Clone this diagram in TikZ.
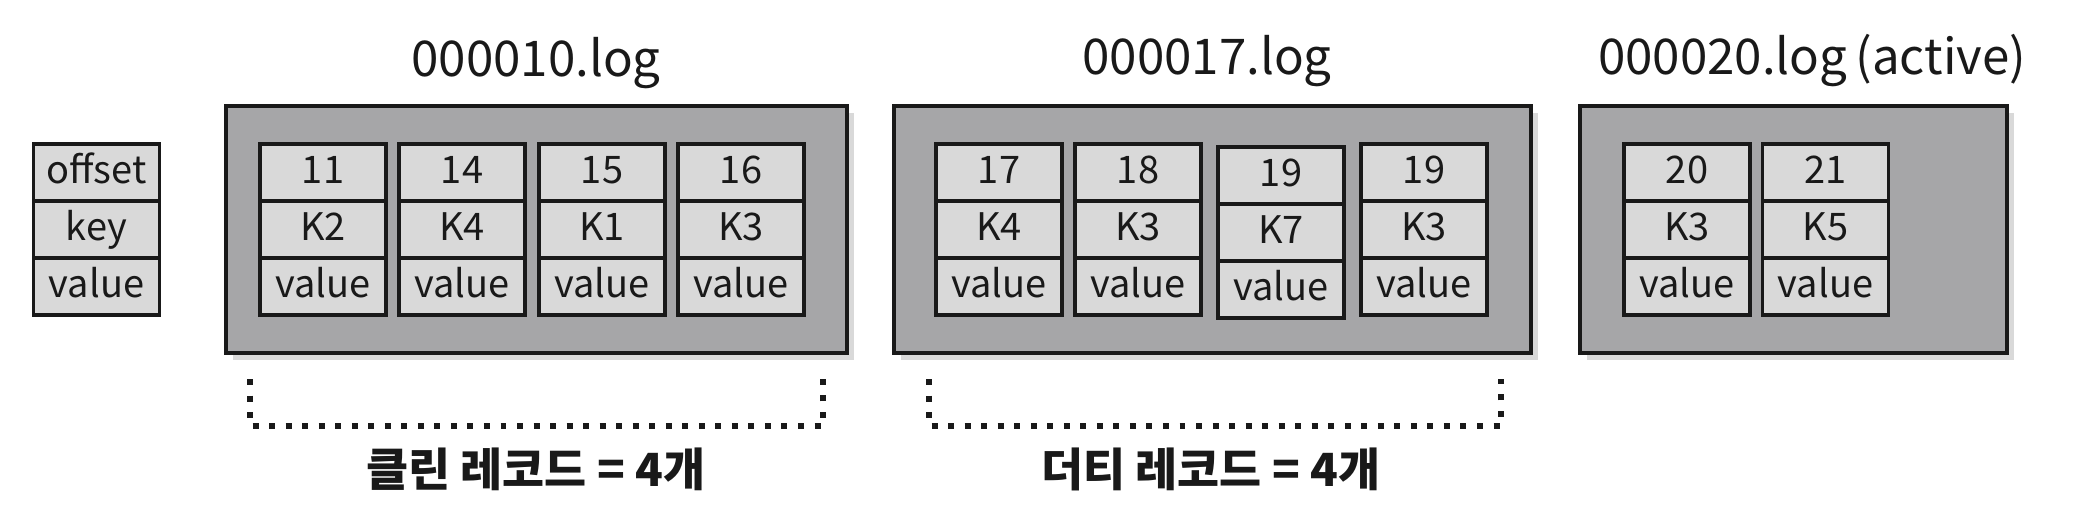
\documentclass[tikz,border=0pt]{standalone}
\usepackage{fontspec}
\setmainfont{Noto Sans CJK KR}
\usetikzlibrary{positioning, shadows}
\definecolor{cellgray}{RGB}{217,217,217}
\definecolor{boxgray}{RGB}{166,166,168}
\definecolor{inkblack}{RGB}{25,25,25}

\tikzset{
  cell/.style={draw=inkblack, line width=1.1pt, fill=cellgray, minimum width=1.26cm,
    minimum height=0.57cm, inner sep=0pt, text height=0.75em, text depth=0.1em,
    font=\fontsize{10.8}{13}\selectfont, text=inkblack},
  segbox/.style={draw=inkblack, line width=1.2pt, fill=boxgray, inner sep=0pt,
    drop shadow={shadow xshift=0.07cm, shadow yshift=-0.07cm, opacity=0.3}},
  segtitle/.style={font=\fontsize{14}{17}\selectfont, anchor=base, text=inkblack},
  countlabel/.style={font=\bfseries\fontsize{13}{16}\selectfont, text=inkblack},
  bracket/.style={draw=inkblack, line width=1.7pt, dash pattern=on 1.7pt off 3pt}
}

% one record: name, x, y of offset cell, offset, key
\newcommand{\logrecord}[5]{%
  \node[cell] (#1o) at (#2,#3) {#4};
  \node[cell] (#1k) at (#2,{#3+57}) {#5};
  \node[cell] (#1v) at (#2,{#3+114}) {value};
}

\begin{document}
\begin{tikzpicture}[x=0.01cm, y=-0.01cm]
  \useasboundingbox (0,0) rectangle (2087,515);

  % legend
  \node[cell] (legoff) at (96.5,172.5) {offset};
  \node[cell] (legkey) at (96.5,229.5) {key};
  \node[cell] (legval) at (96.5,286.5) {value};

  % segment boxes
  \node[segbox, minimum width=6.21cm, minimum height=2.47cm] (seg10) at (536.5,229.5) {};
  \node[segbox, minimum width=6.37cm, minimum height=2.47cm] (seg17) at (1212.5,229.5) {};
  \node[segbox, minimum width=4.27cm, minimum height=2.47cm] (seg20) at (1793.5,229.5) {};

  % titles
  \node[segtitle] (t10) at (536,76) {000010.log};
  \node[segtitle] (t17) at (1207,74) {000017.log};
  \node[segtitle] (t20) at (1812,74) {000020.log\,(active)};

  % records of 000010.log
  \logrecord{a1}{323}{172.5}{11}{K2}
  \logrecord{a2}{462}{172.5}{14}{K4}
  \logrecord{a3}{602}{172.5}{15}{K1}
  \logrecord{a4}{741}{172.5}{16}{K3}

  % records of 000017.log
  \logrecord{b1}{999}{172.5}{17}{K4}
  \logrecord{b2}{1138}{172.5}{18}{K3}
  \logrecord{b3}{1281}{175.5}{19}{K7}
  \logrecord{b4}{1424}{172.5}{19}{K3}

  % records of 000020.log
  \logrecord{c1}{1687}{172.5}{20}{K3}
  \logrecord{c2}{1825.5}{172.5}{21}{K5}

  % dotted brackets
  \coordinate (cleanl) at (250,379);
  \coordinate (cleanr) at (823,379);
  \coordinate (dirtyl) at (929,379);
  \coordinate (dirtyr) at (1501,379);
  \draw[bracket] (cleanl) -- ++(0,47) -| (cleanr);
  \draw[bracket] (dirtyl) -- ++(0,47) -| (dirtyr);

  % counts
  \node[countlabel] (clean) at (536,469) {클린 레코드 = 4개};
  \node[countlabel] (dirty) at (1211,469) {더티 레코드 = 4개};
\end{tikzpicture}
\end{document}
